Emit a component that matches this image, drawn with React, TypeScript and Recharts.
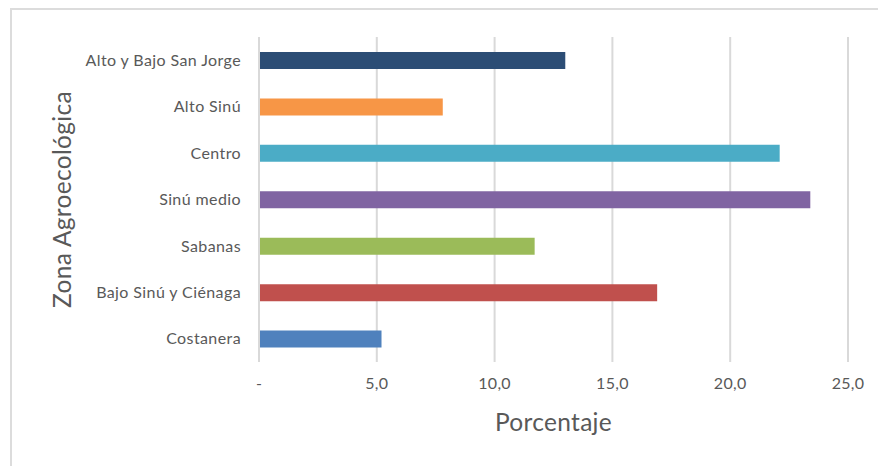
import { Bar, BarChart, CartesianGrid, Cell, XAxis, YAxis } from 'recharts';

// share of each agroecological zone, top to bottom as listed
const zones = [
  'Alto y Bajo San Jorge',
  'Alto Sinú',
  'Centro',
  'Sinú medio',
  'Sabanas',
  'Bajo Sinú y Ciénaga',
  'Costanera',
];
const percents = [13.0, 7.8, 22.1, 23.4, 11.7, 16.9, 5.2];
const zoneColors = ['#2C4D75', '#F79646', '#4BACC6', '#8064A2', '#9BBB59', '#C0504D', '#4F81BD'];
const xTicks = [0, 5, 10, 15, 20, 25];

const data = zones.map((zone, i) => ({ zone, value: percents[i] }));

const font = 'Lato, "Open Sans", sans-serif';
const textColor = '#595959';

const formatTick = (v: number) => (v === 0 ? '-' : v.toFixed(1).replace('.', ','));

export default function App() {
  return (
    <div
      style={{
        width: 876,
        height: 458,
        marginLeft: 2,
        borderTop: '2px solid #dcdcdc',
        borderLeft: '2px solid #dcdcdc',
        boxSizing: 'border-box',
        position: 'relative',
        fontFamily: font,
      }}
    >
      <div style={{ position: 'absolute', left: -4, top: -2 }}>
        <BarChart
          width={878}
          height={458}
          data={data}
          layout="vertical"
          margin={{ top: 29, right: 38, bottom: 0, left: 0 }}
        >
          <CartesianGrid horizontal={false} stroke="#d9d9d9" strokeWidth={2} />
          <XAxis
            type="number"
            domain={[0, 25]}
            ticks={xTicks}
            tickFormatter={formatTick}
            axisLine={false}
            tickLine={false}
            tickMargin={10}
            height={104}
            tick={{ fill: textColor, fontSize: 16, fontFamily: font, letterSpacing: 0.3 }}
            label={{
              value: 'Porcentaje',
              position: 'insideTop',
              offset: 52,
              fill: textColor,
              fontSize: 24.5,
              fontFamily: font,
              letterSpacing: 0.3,
            }}
          />
          <YAxis
            type="category"
            dataKey="zone"
            width={251}
            axisLine={{ stroke: '#d9d9d9', strokeWidth: 2 }}
            tickLine={false}
            tickMargin={12}
            tick={{ fill: textColor, fontSize: 16, fontFamily: font, letterSpacing: 0.4 }}
            label={(props: any) => {
              const vb = props.viewBox || {};
              const cx = 53;
              const cy = (vb.y ?? 0) + (vb.height ?? 0) / 2;
              return (
                <text
                  x={cx}
                  y={cy}
                  transform={`rotate(-90, ${cx}, ${cy})`}
                  textAnchor="middle"
                  dominantBaseline="central"
                  fill={textColor}
                  fontSize={24.5}
                  fontFamily={font}
                  letterSpacing={0.3}
                >
                  Zona Agroecológica
                </text>
              );
            }}
          />
          <Bar dataKey="value" barSize={17} isAnimationActive={false}>
            {data.map((d, i) => (
              <Cell key={d.zone} fill={zoneColors[i]} />
            ))}
          </Bar>
        </BarChart>
      </div>
    </div>
  );
}
